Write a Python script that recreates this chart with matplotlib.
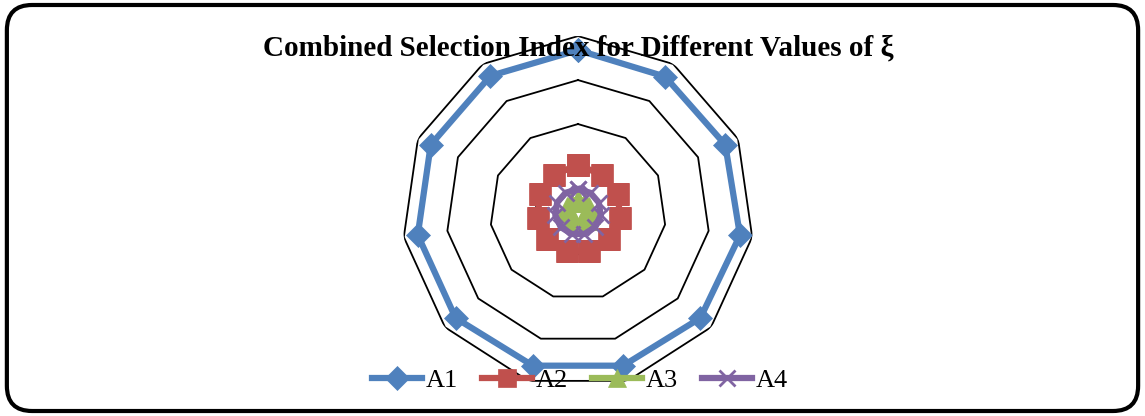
import numpy as np
import matplotlib
matplotlib.use("Agg")
import matplotlib.pyplot as plt
from matplotlib.patches import FancyBboxPatch
from matplotlib.lines import Line2D

title = "Combined Selection Index for Different Values of ξ"
series_names = ["A1", "A2", "A3", "A4"]
categories = [str(i) for i in range(1, 12)]
A1 = [0.92, 0.915, 0.92, 0.93, 0.92, 0.91, 0.91, 0.92, 0.92, 0.92, 0.92]
A2 = [0.27, 0.25, 0.25, 0.24, 0.23, 0.23, 0.23, 0.23, 0.23, 0.24, 0.25]
A3 = [0.07, 0.07, 0.07, 0.07, 0.07, 0.06, 0.06, 0.07, 0.07, 0.07, 0.07]
A4 = [0.13, 0.13, 0.13, 0.13, 0.13, 0.13, 0.13, 0.13, 0.13, 0.13, 0.13]
grid_levels = [0.25, 0.5, 0.75, 1.0]

colors = ["#4F81BD", "#C0504D", "#9BBB59", "#8064A2"]
markers = ["D", "s", "^", "x"]
msizes = [12, 16, 14, 11]

plt.rcParams['font.family'] = ['Liberation Serif', 'DejaVu Serif']

fig = plt.figure(figsize=(11.45, 4.16), dpi=100)
border = FancyBboxPatch((0.006, 0.012), 0.988, 0.976,
                        boxstyle="round,pad=0,rounding_size=0.022",
                        transform=fig.transFigure, fill=False,
                        edgecolor="black", linewidth=3, mutation_aspect=11.45/4.16)
fig.patches.append(border)

ax = fig.add_axes([0.3511, 0.0673, 0.3074, 0.846], projection="polar")
ax.set_theta_offset(np.pi / 2)
ax.set_theta_direction(-1)
n = len(categories)
theta = np.linspace(0, 2 * np.pi, n, endpoint=False)
theta_c = np.append(theta, theta[0])

for lv in grid_levels:
    ax.plot(theta_c, [lv] * (n + 1), color="black", lw=1.3, zorder=1)

for vals, c, m, ms, name in zip([A1, A2, A3, A4], colors, markers, msizes, series_names):
    v = np.append(vals, vals[0])
    ax.plot(theta_c, v, color=c, lw=4.5, marker=m, markersize=ms,
            markeredgecolor=c, markeredgewidth=2 if m == "x" else 0.5, label=name, zorder=3)

ax.set_ylim(0, 1.0)
ax.set_xticks(theta)
ax.set_xticklabels([])
ax.set_yticks([])
ax.grid(False)
ax.spines['polar'].set_visible(False)
ax.patch.set_alpha(0)

fig.text(0.505, 0.885, title, ha="center", va="center", fontsize=21, fontweight="bold")

handles = [Line2D([0], [0], color=c, lw=4.5, marker=m, markersize=min(ms, 13), markeredgecolor=c,
                  markeredgewidth=2 if m == "x" else 0.5)
           for c, m, ms in zip(colors, markers, msizes)]
fig.legend(handles, series_names, loc="center", bbox_to_anchor=(0.5066, 0.085), ncol=4,
           frameon=False, fontsize=19, handlelength=1.9, handletextpad=0.15, columnspacing=0.9)

fig.savefig("out.png", dpi=100)
